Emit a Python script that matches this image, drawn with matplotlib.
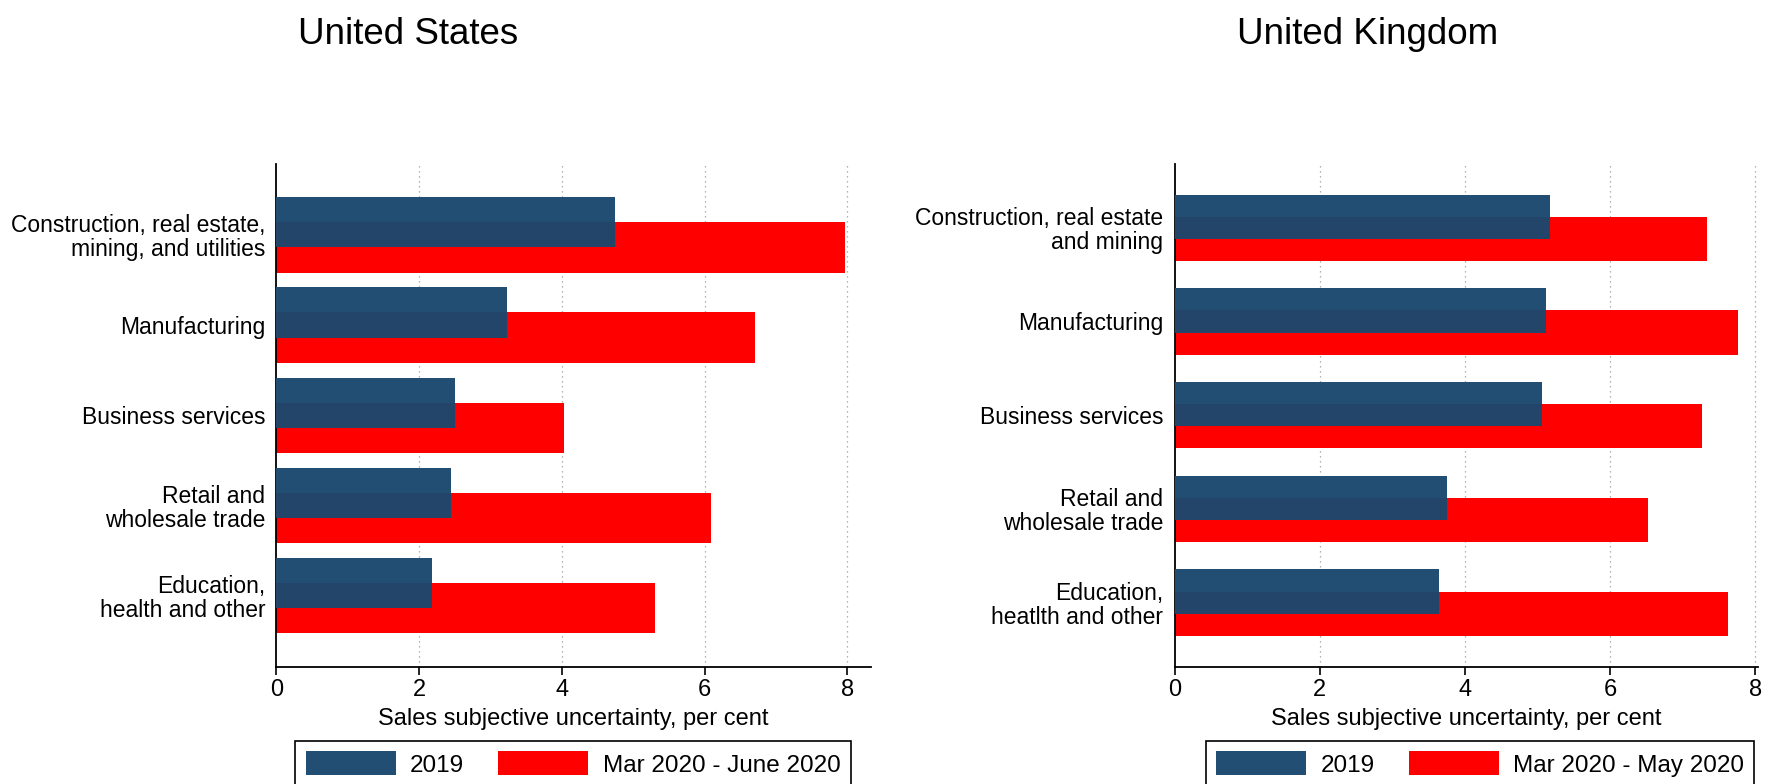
import numpy as np
import matplotlib
matplotlib.use("Agg")
import matplotlib.pyplot as plt
from matplotlib.patches import Patch

plt.rcParams['font.family'] = ['Liberation Sans', 'DejaVu Sans']

# ---- data ----
us_categories = ["Construction, real estate,\nmining, and utilities", "Manufacturing",
                 "Business services", "Retail and\nwholesale trade",
                 "Education,\nhealth and other"]
us_2019 = [4.74, 3.23, 2.50, 2.45, 2.18]
us_2020 = [7.96, 6.70, 4.03, 6.09, 5.30]

uk_categories = ["Construction, real estate\nand mining", "Manufacturing",
                 "Business services", "Retail and\nwholesale trade",
                 "Education,\nheatlth and other"]
uk_2019 = [5.17, 5.12, 5.06, 3.76, 3.64]
uk_2020 = [7.33, 7.76, 7.26, 6.52, 7.63]

xticks = [0, 2, 4, 6, 8]
titles = ["United States", "United Kingdom"]
legend_us = ["2019", "Mar 2020 - June 2020"]
legend_uk = ["2019", "Mar 2020 - May 2020"]
xlabel = "Sales subjective uncertainty, per cent"

BLUE = "#224E73"
BLUE_DARK = "#23456A"
RED = "#FF0000"
FS = 16.5
LFS = 17.5

W, H = 1769, 784
fig = plt.figure(figsize=(W / 100, H / 100), dpi=100)


def px_axes(l, r, t, b):
    return fig.add_axes([l / W, 1 - b / H, (r - l) / W, (b - t) / H])


def draw(ax, cats, v19, v20, h, ylim, xmax):
    y = np.arange(len(cats))
    off = h / 4
    ax.barh(y + off, v20, height=h, color=RED, linewidth=0, zorder=2)
    ax.barh(y - off, v19, height=h, color=BLUE, linewidth=0, zorder=3)
    ax.barh(y, v19, height=h - 2 * off, color=BLUE_DARK, linewidth=0, zorder=4)
    ax.set_ylim(len(cats) - 1 + ylim, -ylim)
    ax.set_xlim(0, xmax)
    ax.set_yticks(y)
    ax.set_yticklabels(cats, fontsize=FS, linespacing=1.05)
    ax.set_xticks(xticks)
    ax.set_xticklabels([str(t) for t in xticks], fontsize=FS + 0.5)
    ax.tick_params(axis='y', length=0, pad=8)
    ax.tick_params(axis='x', length=6, width=1.2, pad=3, direction='out')
    for s in ['top', 'right']:
        ax.spines[s].set_visible(False)
    for s in ['left', 'bottom']:
        ax.spines[s].set_linewidth(1.3)
        ax.spines[s].set_color('black')
    ax.set_axisbelow(True)
    for t in xticks[1:]:
        ax.axvline(t, color='#9a9a9a', linestyle=(0, (1, 3)), linewidth=0.9, zorder=0)
    ax.set_xlabel(xlabel, fontsize=FS + 0.5, labelpad=5)


ax1 = px_axes(276.4, 871, 163.6, 666.8)
draw(ax1, us_categories, us_2019, us_2020, 0.557, 0.79, 8.33)

ax2 = px_axes(1174.5, 1757.5, 163.6, 666.8)
draw(ax2, uk_categories, uk_2019, uk_2020, 0.473, 0.685, 8.03)

fig.text(408.5 / W, 1 - 34 / H, titles[0], fontsize=26.5, ha='center', va='center')
fig.text(1367.5 / W, 1 - 34 / H, titles[1], fontsize=26.5, ha='center', va='center')


def legend(labels, cx):
    handles = [Patch(facecolor=BLUE, edgecolor='none'), Patch(facecolor=RED, edgecolor='none')]
    leg = fig.legend(handles, labels, loc='upper center', bbox_to_anchor=(cx / W, 1 - 741 / H),
                     ncol=2, fontsize=LFS, frameon=True, fancybox=False, shadow=False,
                     handlelength=3.7, handleheight=1.15, handletextpad=0.6,
                     columnspacing=1.4, borderpad=0.42, borderaxespad=0)
    fr = leg.get_frame()
    fr.set_edgecolor('black')
    fr.set_linewidth(1.2)
    fr.set_alpha(1)
    return leg


legend(legend_us, 573.1)
legend(legend_uk, 1480.2)

fig.savefig("out.png", dpi=100)
